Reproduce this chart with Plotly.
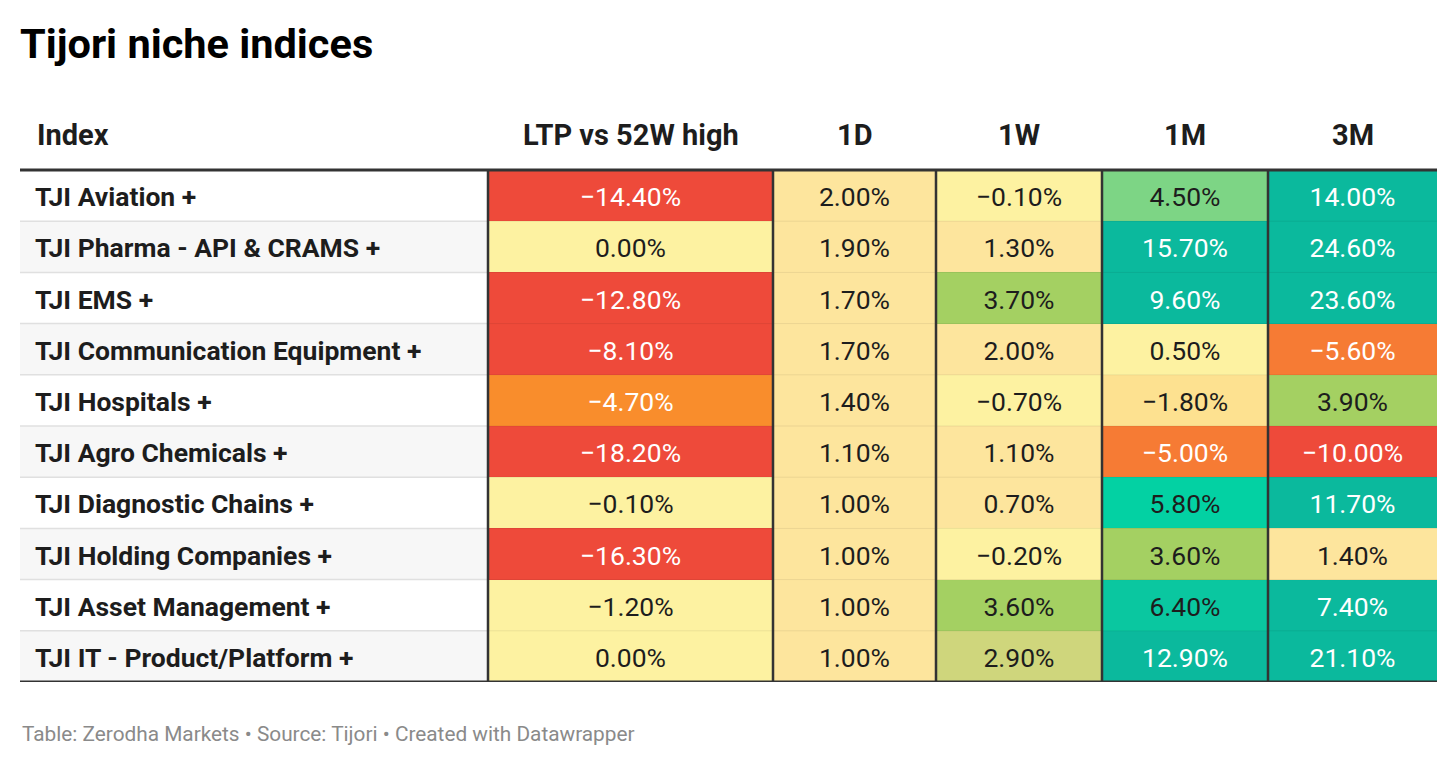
import numpy as np
import plotly.graph_objects as go

indices = [
    "TJI Aviation +",
    "TJI Pharma - API & CRAMS +",
    "TJI EMS +",
    "TJI Communication Equipment +",
    "TJI Hospitals +",
    "TJI Agro Chemicals +",
    "TJI Diagnostic Chains +",
    "TJI Holding Companies +",
    "TJI Asset Management +",
    "TJI IT - Product/Platform +",
]
headers = ["Index", "LTP vs 52W high", "1D", "1W", "1M", "3M"]
ltp_vs_52w = [-14.4, 0.0, -12.8, -8.1, -4.7, -18.2, -0.1, -16.3, -1.2, 0.0]
ret_1d = [2.0, 1.9, 1.7, 1.7, 1.4, 1.1, 1.0, 1.0, 1.0, 1.0]
ret_1w = [-0.1, 1.3, 3.7, 2.0, -0.7, 1.1, 0.7, -0.2, 3.6, 2.9]
ret_1m = [4.5, 15.7, 9.6, 0.5, -1.8, -5.0, 5.8, 3.6, 6.4, 12.9]
ret_3m = [14.0, 24.6, 23.6, -5.6, 3.9, -10.0, 11.7, 1.4, 7.4, 21.1]

# ---- layout constants (pixels) ----
# the page body has an 8px margin, so the figure is drawn 8px in from the window
PAD = 8
W, H = 1456 - PAD, 766 - PAD
LEFT, RIGHT = 20 - PAD, 19
TOP, BOTTOM = 100 - PAD, 84
HEADER_PX = 70
ROW_PX = (H - TOP - BOTTOM - HEADER_PX) / len(indices)
TEXT_NUDGE = 4 / ROW_PX  # scatter text sits a bit high, push it down ~4px
col_edges = [0, 468, 753, 916, 1082, 1248, 1417]
FONT = "Roboto"
DARK = "#1d1d1d"
RULE = "#333333"

# stepped colour rule (datawrapper-like)
ZMIN, ZMAX = -8, 8
steps = [
    (-8, -7, "#ee4a3a"),
    (-7, -4.8, "#f67b34"),
    (-4.8, -3, "#f98d2c"),
    (-3, -1.5, "#fde190"),
    (-1.5, 0.6, "#fdf2a1"),
    (0.6, 2.5, "#fde59d"),
    (2.5, 3.3, "#cfd67c"),
    (3.3, 4.0, "#a4d062"),
    (4.0, 5.0, "#7dd585"),
    (5.0, 6.0, "#03d1a3"),
    (6.0, 7.0, "#0ac7a0"),
    (7.0, 8, "#0bb99d"),
]
colorscale = []
for lo, hi, c in steps:
    colorscale.append([(lo - ZMIN) / (ZMAX - ZMIN), c])
    colorscale.append([(hi - ZMIN) / (ZMAX - ZMIN), c])

z = np.column_stack([ltp_vs_52w, ret_1d, ret_1w, ret_1m, ret_3m])
n_rows, n_cols = z.shape
row_edges = np.arange(n_rows + 1) - 0.5
centers = [(a + b) / 2 for a, b in zip(col_edges[1:-1], col_edges[2:])]


def fmt(v):
    return f"{v:.2f}%".replace("-", "\u2212")


fig = go.Figure()

# index column background (zebra rows)
fig.add_trace(go.Heatmap(
    x=col_edges[:2], y=row_edges,
    z=[[i % 2] for i in range(n_rows)],
    colorscale=[[0, "#ffffff"], [1, "#f7f7f7"]], zmin=0, zmax=1,
    showscale=False, hoverinfo="skip",
))

# coloured value cells
fig.add_trace(go.Heatmap(
    x=col_edges[1:], y=row_edges, z=z,
    colorscale=colorscale, zmin=ZMIN, zmax=ZMAX,
    showscale=False, hoverinfo="skip",
))

# value labels
xs, ys, txt, tcol = [], [], [], []
for r in range(n_rows):
    for c in range(n_cols):
        v = z[r, c]
        xs.append(centers[c])
        ys.append(r + TEXT_NUDGE)
        txt.append(fmt(v))
        tcol.append("#ffffff" if (v <= -4 or v >= 7) else DARK)
fig.add_trace(go.Scatter(
    x=xs, y=ys, text=txt, mode="text", textposition="middle center",
    textfont=dict(family=FONT, size=26.5, color=tcol),
    hoverinfo="skip", showlegend=False,
))

# index names
fig.add_trace(go.Scatter(
    x=[15] * n_rows, y=[r + TEXT_NUDGE for r in range(n_rows)], text=indices, mode="text",
    textposition="middle right",
    textfont=dict(family=FONT, size=26.5, color=DARK, weight="bold"),
    hoverinfo="skip", showlegend=False,
))

header_y = -0.5 - HEADER_PX / ROW_PX / 2
annotations = [dict(
    x=15, y=header_y, xref="x", yref="y", text=headers[0],
    xanchor="left", yanchor="middle", showarrow=False,
    font=dict(family=FONT, size=29, color=DARK, weight="bold"),
)]
for h, cx in zip(headers[1:], centers):
    annotations.append(dict(
        x=cx, y=header_y, xref="x", yref="y", text=h,
        xanchor="center", yanchor="middle", showarrow=False,
        font=dict(family=FONT, size=29, color=DARK, weight="bold"),
    ))
annotations.append(dict(
    x=0, y=-(734 - PAD - (H - BOTTOM)) / (H - TOP - BOTTOM), xref="paper", yref="paper",
    text="Table: Zerodha Markets \u2022 Source: Tijori \u2022 Created with Datawrapper",
    xanchor="left", yanchor="middle", showarrow=False,
    font=dict(family=FONT, size=20.8, color="#8a8a8a"),
))

shapes = []
for r in range(n_rows - 1):
    yb = r + 0.5
    shapes.append(dict(type="line", xref="x", yref="y", x0=col_edges[0], x1=col_edges[1],
                       y0=yb, y1=yb, line=dict(color="#e0e0e0", width=1.5)))
    shapes.append(dict(type="line", xref="x", yref="y", x0=col_edges[1], x1=col_edges[-1],
                       y0=yb, y1=yb, line=dict(color="rgba(0,0,0,0.07)", width=1)))
for xe in col_edges[1:-1]:
    shapes.append(dict(type="line", xref="x", yref="y", x0=xe, x1=xe,
                       y0=-0.5, y1=n_rows - 0.5, line=dict(color=RULE, width=2.5)))
for yb in (-0.5, n_rows - 0.5):
    shapes.append(dict(type="line", xref="x", yref="y", x0=col_edges[0], x1=col_edges[-1],
                       y0=yb, y1=yb, line=dict(color=RULE, width=3)))

fig.update_layout(
    width=W, height=H,
    margin=dict(l=LEFT, r=RIGHT, t=TOP, b=BOTTOM),
    paper_bgcolor="white", plot_bgcolor="white",
    title=dict(text="Tijori niche indices", x=LEFT / W, xref="container", xanchor="left",
               y=1 - (43 - PAD) / H, yref="container", yanchor="middle",
               font=dict(family=FONT, size=41.5, color="#000000", weight="bold")),
    xaxis=dict(range=[col_edges[0], col_edges[-1]], visible=False, fixedrange=True),
    yaxis=dict(range=[n_rows - 0.5, -0.5 - HEADER_PX / ROW_PX], visible=False, fixedrange=True),
    annotations=annotations,
    shapes=shapes,
    showlegend=False,
)

fig.write_html("out.html", config={"displayModeBar": False})
